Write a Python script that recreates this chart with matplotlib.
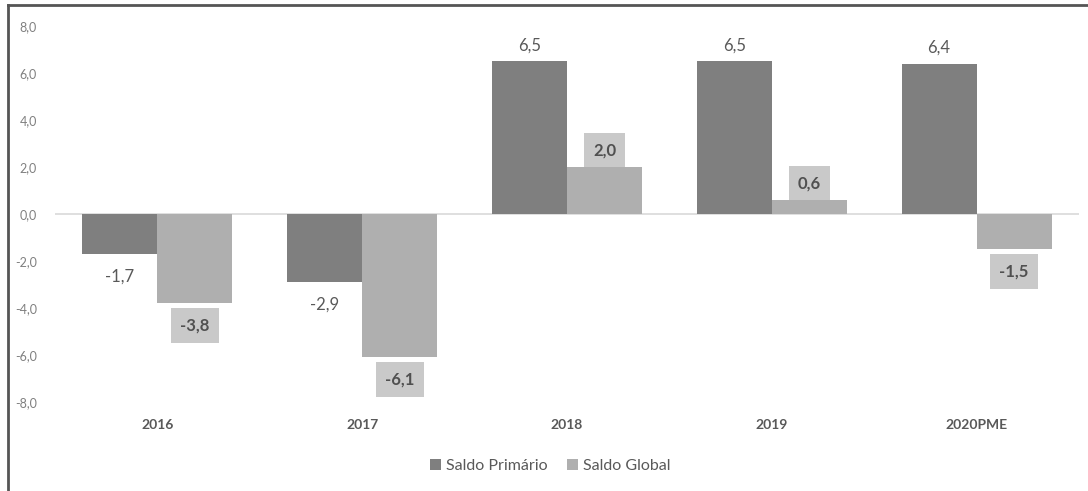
import matplotlib.pyplot as plt
from matplotlib.lines import Line2D
import numpy as np

anos = ["2016", "2017", "2018", "2019", "2020PME"]
saldo_primario = [-1.7, -2.9, 6.5, 6.5, 6.4]
saldo_global = [-3.8, -6.1, 2.0, 0.6, -1.5]
yticks = [-8, -6, -4, -2, 0, 2, 4, 6, 8]

plt.rcParams['font.family'] = ['Lato', 'DejaVu Sans']

fig = plt.figure(figsize=(10.88, 4.91), dpi=100)
ax = fig.add_axes([55/1088, 1-402/491, (1079-55)/1088, (402-26)/491])

x = np.arange(len(anos))
w = 0.366
ax.bar(x - w/2, saldo_primario, w, color='#7f7f7f', label='Saldo Primário')
ax.bar(x + w/2, saldo_global, w, color='#afafaf', label='Saldo Global')

def fmt(v):
    return f"{v:.1f}".replace('.', ',')

for xi, v in zip(x - w/2, saldo_primario):
    off = 11.5 if v > 0 else -16
    ax.annotate(fmt(v), (xi, v), xytext=(0, off), textcoords='offset points',
                ha='center', va='center', fontsize=12, color='#595959')

for xi, v in zip(x + w/2, saldo_global):
    off = 12 if v > 0 else -16
    ax.annotate(fmt(v), (xi, v), xytext=(0, off), textcoords='offset points',
                ha='center', va='center', fontsize=12, color='#505050', fontweight='bold',
                bbox=dict(boxstyle='square,pad=0.55', fc='#c9c9c9', ec='none'))

ax.axhline(0, color='#d9d9d9', lw=1.2, zorder=0)
ax.set_xlim(-0.5, 4.5)
ax.set_ylim(-8, 8)
ax.set_yticks(yticks)
ax.set_yticklabels([fmt(v) for v in yticks])
ax.set_xticks(x)
ax.set_xticklabels(anos, fontweight='bold')
ax.tick_params(axis='y', length=0, pad=13, labelsize=9, labelcolor='#808080')
ax.tick_params(axis='x', length=0, pad=12, labelsize=10, labelcolor='#595959')
for s in ax.spines.values():
    s.set_visible(False)

fig.legend(loc='center', bbox_to_anchor=(550/1088, 1-466/491), ncol=2, frameon=False,
           fontsize=11.5, labelcolor='#595959', handlelength=0.7, handleheight=0.7,
           handletextpad=0.3, columnspacing=1.2)

# moldura recortada
fig.add_artist(Line2D([8/1088, 8/1088], [0, 1-5/491], color='#555555', lw=2))
fig.add_artist(Line2D([8/1088, 1], [1-5/491, 1-5/491], color='#555555', lw=2))

fig.savefig('out.png', dpi=100)
